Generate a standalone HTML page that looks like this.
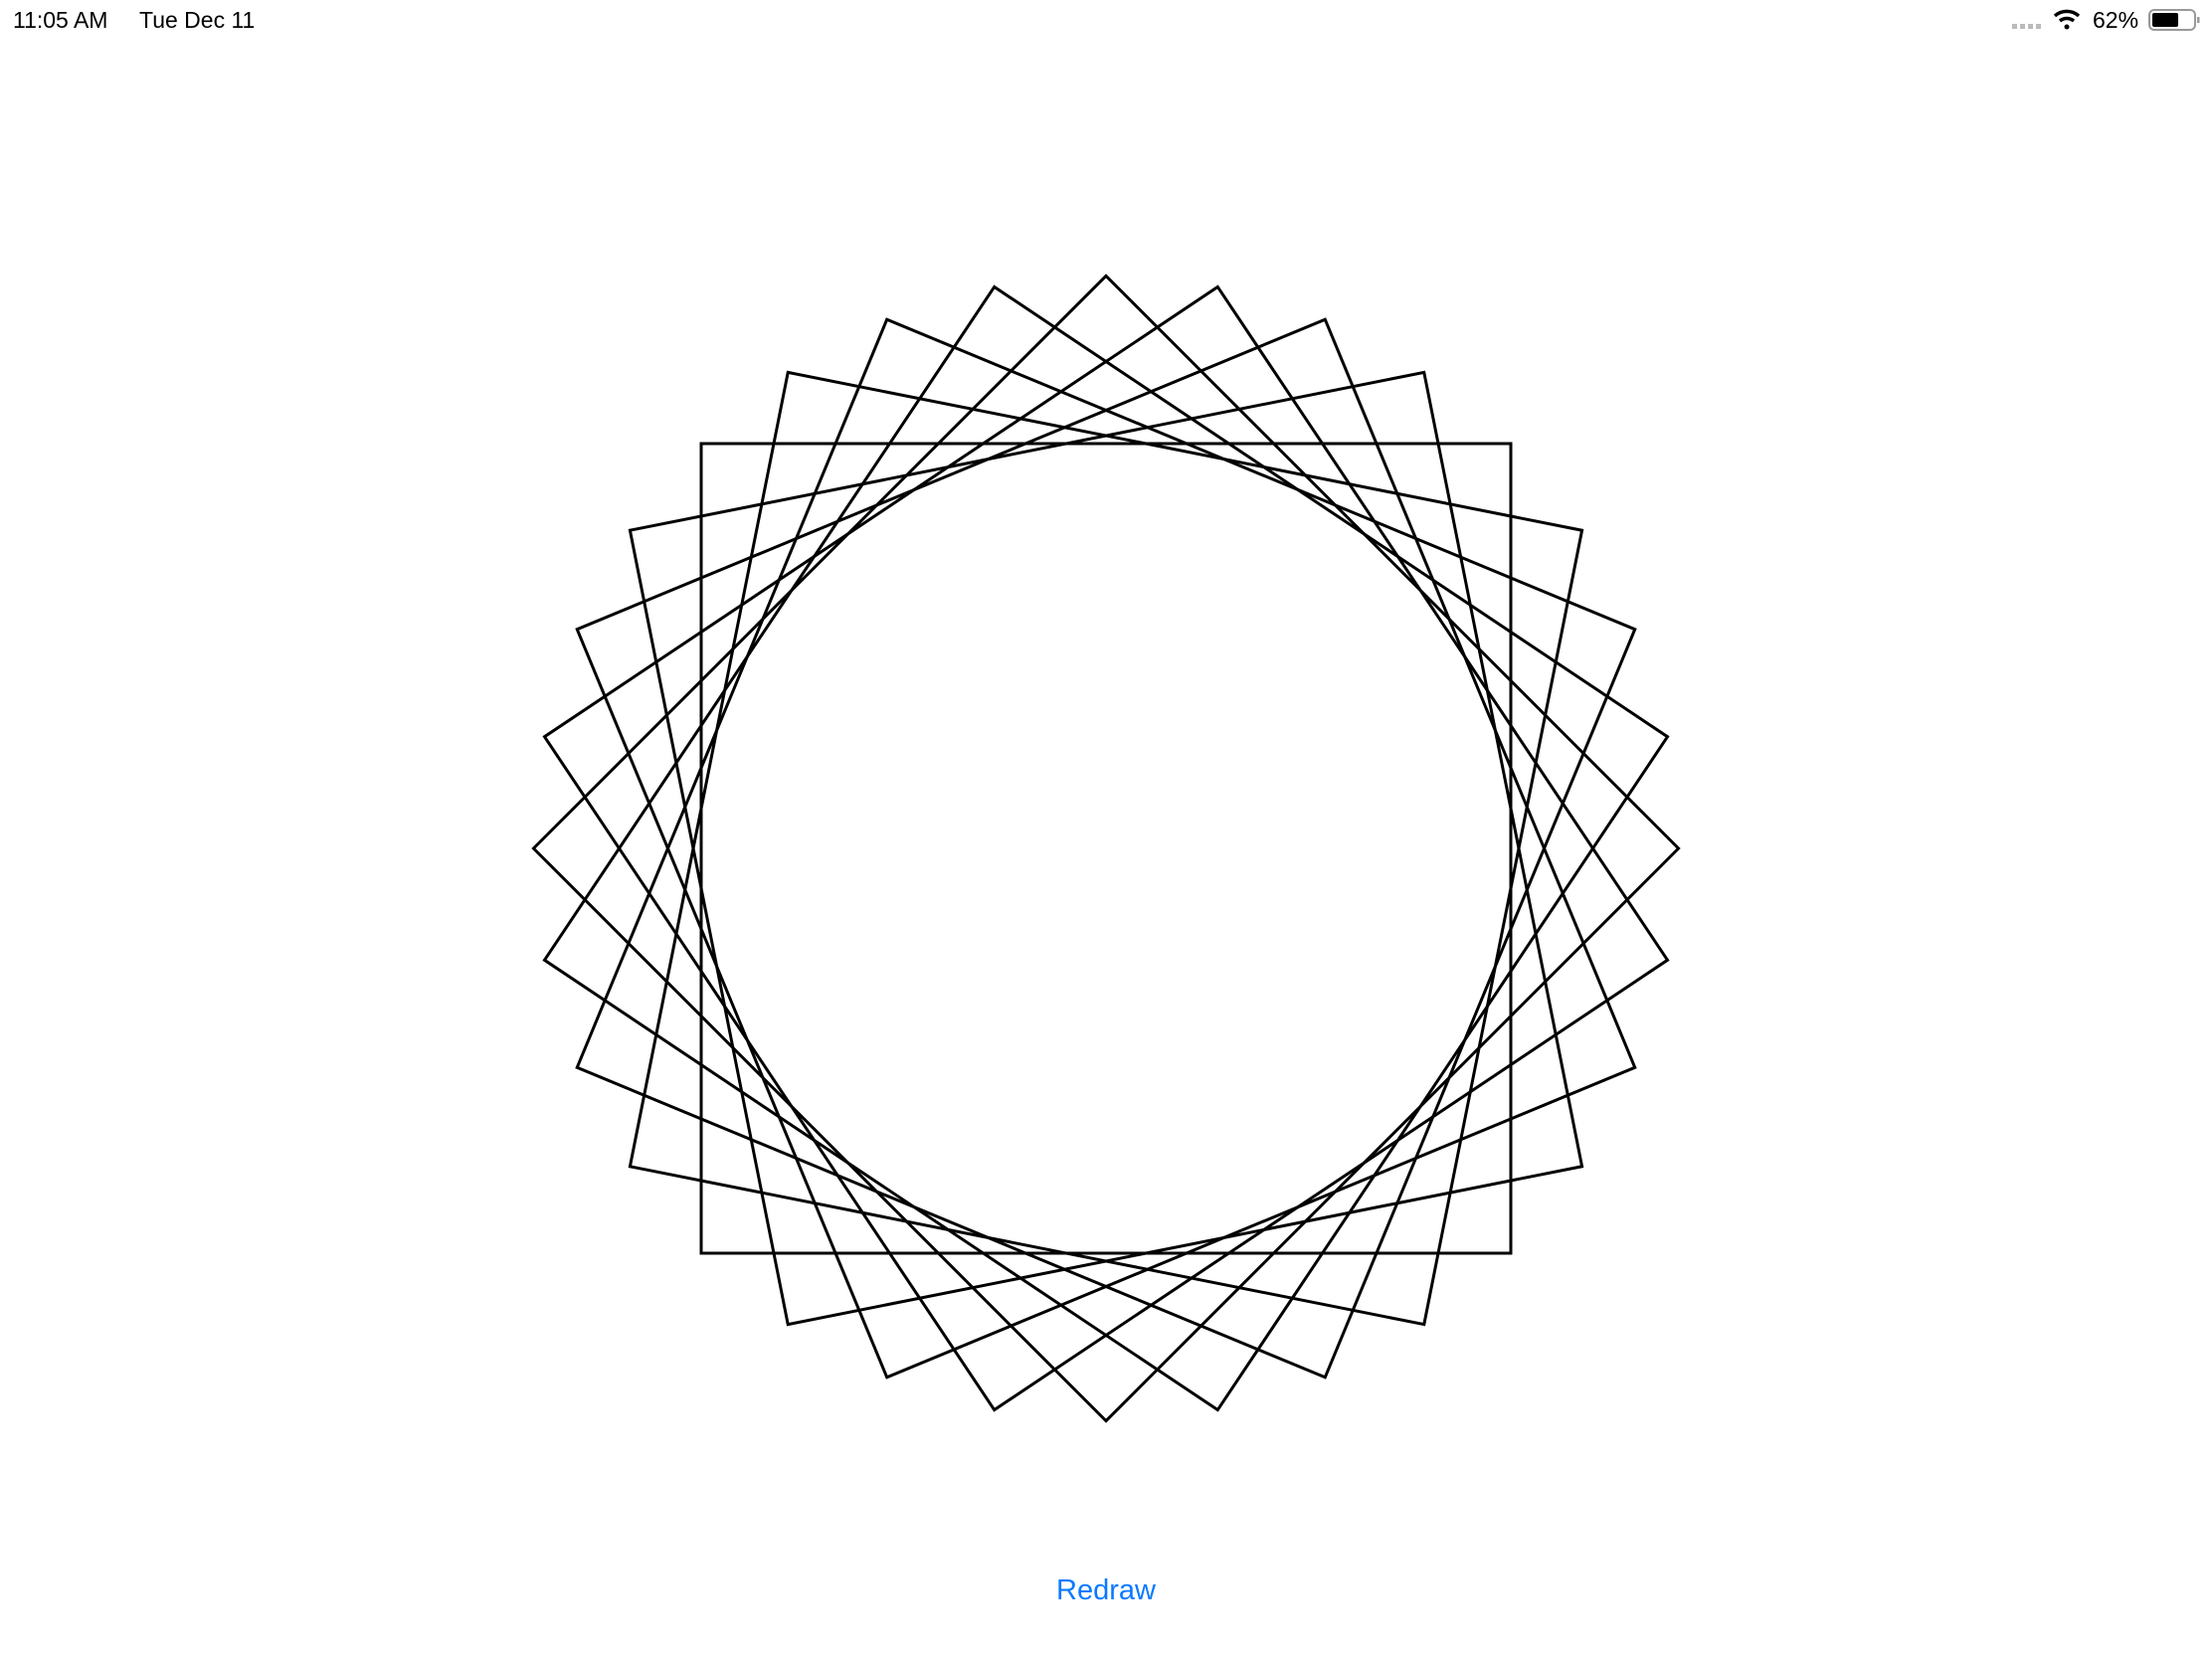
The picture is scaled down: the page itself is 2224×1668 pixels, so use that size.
<!DOCTYPE html>
<html><head><meta charset="utf-8"><style>
html,body{margin:0;padding:0;background:#fff;width:2224px;height:1668px;overflow:hidden;font-family:"Liberation Sans",sans-serif}
</style></head><body>
<svg width="2224" height="1668" xmlns="http://www.w3.org/2000/svg">
<text x="13" y="28" font-size="23" fill="#000" font-family="Liberation Sans, sans-serif">11:05 AM</text>
<text x="140" y="28" font-size="23" fill="#000" font-family="Liberation Sans, sans-serif">Tue Dec 11</text>
<g fill="#bbb">
<rect x="2023" y="24" width="5" height="5"/><rect x="2031" y="24" width="5" height="5"/><rect x="2039" y="24" width="5" height="5"/><rect x="2047" y="24" width="5" height="5"/>
</g>
<g fill="none" stroke="#000" stroke-width="3.5">
<path d="M2066 16 A18 18 0 0 1 2090 16"/><path d="M2071 21 A11 11 0 0 1 2085 21"/>
<circle cx="2078" cy="27" r="2.5" fill="#000" stroke="none"/>
</g>
<text x="2104" y="28" font-size="23" fill="#000" font-family="Liberation Sans, sans-serif">62%</text>
<g>
<rect x="2161" y="10" width="46" height="20" rx="5" fill="none" stroke="#999" stroke-width="2"/>
<rect x="2164" y="13" width="26" height="14" rx="2" fill="#000"/>
<rect x="2209" y="17" width="2.5" height="6" fill="#999"/>
</g>
<g id="shape" fill="none" stroke="#000" stroke-width="3" stroke-linejoin="miter"></g>
<text x="1112" y="1608" font-size="29" fill="#0a7aff" text-anchor="middle" font-family="Liberation Sans, sans-serif">Redraw</text>
</svg>
<script>
const angles = [0, 11.25, 22.5, 33.75, 45, 56.25, 67.5, 78.75];
const halfSides = [407, 407, 407, 407, 407, 407, 407, 407];
const cx = 1112, cy = 853;
const g = document.getElementById('shape');
angles.forEach((a, i) => {
  const h = halfSides[i];
  const r = h * Math.SQRT2;
  const pts = [];
  for (let k = 0; k < 4; k++) {
    const t = (a + 45 + 90 * k) * Math.PI / 180;
    pts.push((cx + r * Math.cos(t)).toFixed(2) + ',' + (cy + r * Math.sin(t)).toFixed(2));
  }
  const p = document.createElementNS('http://www.w3.org/2000/svg', 'polygon');
  p.setAttribute('points', pts.join(' '));
  
  
  g.appendChild(p);
});
</script>
</body></html>
